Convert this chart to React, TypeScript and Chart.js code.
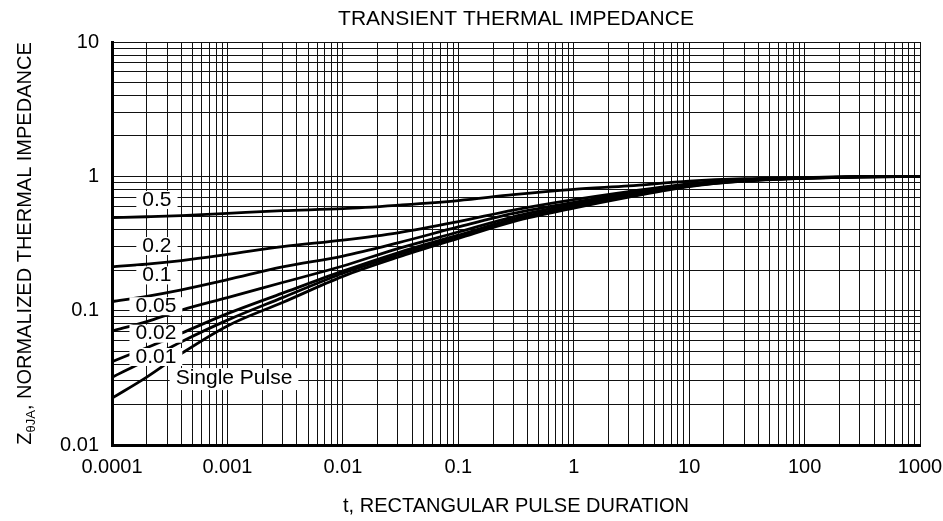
import React, { useEffect, useRef } from 'react';
import { Chart, registerables } from 'chart.js';

Chart.register(...registerables);

const FONT = "'Liberation Sans', Arial, Helvetica, sans-serif";

// Pulse duration t (s)
const tValues = [1e-4, 2e-4, 4e-4, 1e-3, 3e-3, 1e-2, 3e-2, 0.1, 0.3, 1, 3, 10, 30, 100, 300, 1000];

// Normalized thermal impedance per duty cycle
const zD05 = [0.492, 0.5, 0.51, 0.53, 0.555, 0.575, 0.61, 0.66, 0.73, 0.8, 0.85, 0.92, 0.96, 0.98, 0.995, 1.0];
const zD02 = [0.212, 0.222, 0.236, 0.262, 0.3, 0.335, 0.38, 0.46, 0.56, 0.67, 0.77, 0.88, 0.945, 0.977, 0.993, 1.0];
const zD01 = [0.117, 0.128, 0.143, 0.17, 0.212, 0.255, 0.32, 0.42, 0.53, 0.64, 0.75, 0.87, 0.94, 0.975, 0.992, 1.0];
const zD005 = [0.0706, 0.083, 0.101, 0.125, 0.162, 0.215, 0.29, 0.385, 0.5, 0.62, 0.74, 0.86, 0.935, 0.972, 0.99, 1.0];
const zD002 = [0.0417, 0.053, 0.068, 0.095, 0.135, 0.197, 0.27, 0.365, 0.48, 0.6, 0.72, 0.85, 0.93, 0.97, 0.99, 1.0];
const zD001 = [0.0319, 0.043, 0.0587, 0.085, 0.125, 0.19, 0.26, 0.355, 0.47, 0.59, 0.71, 0.845, 0.925, 0.967, 0.99, 1.0];
const zSingle = [0.0223, 0.032, 0.048, 0.077, 0.115, 0.18, 0.25, 0.345, 0.46, 0.58, 0.7, 0.84, 0.92, 0.965, 0.99, 1.0];

const seriesValues = [zD05, zD02, zD01, zD005, zD002, zD001, zSingle];

// Curve labels and their anchors (data coordinates)
const curveLabels = ['0.5', '0.2', '0.1', '0.05', '0.02', '0.01', 'Single Pulse'];
const labelT = [2.45e-4, 2.45e-4, 2.45e-4, 2.4e-4, 2.4e-4, 2.4e-4, 1.14e-3];
const labelZ = [0.667, 0.303, 0.183, 0.108, 0.0674, 0.0452, 0.0315];

// Axis ticks
const xMajorTicks = [1e-4, 1e-3, 1e-2, 0.1, 1, 10, 100, 1000];
const xTickLabels = ['0.0001', '0.001', '0.01', '0.1', '1', '10', '100', '1000'];
const yMajorTicks = [0.01, 0.1, 1, 10];
const yTickLabels = ['0.01', '0.1', '1', '10'];

const chartTitle = 'TRANSIENT THERMAL IMPEDANCE';
const xTitle = 't, RECTANGULAR PULSE DURATION';
const yTitleMain = 'Z';
const yTitleSub = 'θJA';
const yTitleRest = ', NORMALIZED THERMAL IMPEDANCE';

function logGrid(majors: number[]) {
  const out: number[] = [];
  for (let i = 0; i < majors.length - 1; i++) {
    for (let k = 1; k <= 9; k++) out.push(Number((k * majors[i]).toPrecision(4)));
  }
  out.push(majors[majors.length - 1]);
  return out;
}

function lookupLabel(v: number, majors: number[], labels: string[]) {
  const i = majors.findIndex((m) => Math.abs(Math.log10(m) - Math.log10(v)) < 1e-6);
  return i >= 0 ? labels[i] : '';
}

const textPlugin = {
  id: 'customTexts',
  afterDatasetsDraw(chart: any) {
    const ctx = chart.ctx as CanvasRenderingContext2D;
    const xs = chart.scales.x;
    const ys = chart.scales.y;
    ctx.save();
    ctx.font = `21px ${FONT}`;
    ctx.textAlign = 'center';
    ctx.textBaseline = 'middle';
    curveLabels.forEach((lab, i) => {
      const px = xs.getPixelForValue(labelT[i]);
      const py = ys.getPixelForValue(labelZ[i]);
      const w = ctx.measureText(lab).width + 12;
      const h = lab.length > 5 ? 22 : 18;
      ctx.fillStyle = '#ffffff';
      ctx.fillRect(px - w / 2, py - h / 2 + (lab.length > 5 ? 1 : 0), w, h);
      ctx.fillStyle = '#000000';
      ctx.fillText(lab, px, py);
    });
    ctx.restore();
  },
  afterDraw(chart: any) {
    const ctx = chart.ctx as CanvasRenderingContext2D;
    const area = chart.chartArea;
    const cx = (area.left + area.right) / 2;
    ctx.save();
    ctx.fillStyle = '#000000';
    ctx.textAlign = 'center';
    ctx.textBaseline = 'middle';
    ctx.font = `21px ${FONT}`;
    ctx.fillText(chartTitle, cx, 19.5);
    ctx.font = `20px ${FONT}`;
    ctx.fillText(xTitle, cx, 506.5);

    // Rotated y-axis title with subscript
    const cy = (area.top + area.bottom) / 2;
    ctx.translate(24, cy);
    ctx.rotate(-Math.PI / 2);
    ctx.textAlign = 'left';
    ctx.textBaseline = 'alphabetic';
    const mainFont = `20px ${FONT}`;
    const subFont = `13px ${FONT}`;
    ctx.font = mainFont;
    const wZ = ctx.measureText(yTitleMain).width;
    const wRest = ctx.measureText(yTitleRest).width;
    ctx.font = subFont;
    const wSub = ctx.measureText(yTitleSub).width;
    const total = wZ + wSub + wRest;
    let x0 = -total / 2;
    const base = 7;
    ctx.font = mainFont;
    ctx.fillText(yTitleMain, x0, base);
    x0 += wZ;
    ctx.font = subFont;
    ctx.fillText(yTitleSub, x0, base + 4);
    x0 += wSub;
    ctx.font = mainFont;
    ctx.fillText(yTitleRest, x0, base);
    ctx.restore();
  },
};

export default function App() {
  const ref = useRef<HTMLCanvasElement>(null);

  useEffect(() => {
    if (!ref.current) return;
    const xGrid = logGrid(xMajorTicks);
    const yGrid = logGrid(yMajorTicks);

    const datasets = seriesValues.map((vals, i) => ({
      label: curveLabels[i],
      data: tValues.map((t, j) => ({ x: t, y: vals[j] })),
      borderColor: '#000000',
      backgroundColor: '#000000',
      borderWidth: 2.8,
      pointRadius: 0,
      fill: false,
      cubicInterpolationMode: 'monotone' as const,
    }));

    const chart = new Chart(ref.current, {
      type: 'line',
      data: { datasets },
      options: {
        responsive: false,
        animation: false,
        layout: { padding: { top: 42, right: 23, left: 0, bottom: 0 } },
        plugins: {
          legend: { display: false },
          tooltip: { enabled: false },
          title: { display: false },
        },
        scales: {
          x: {
            type: 'logarithmic',
            position: 'bottom',
            min: 1e-4,
            max: 1000,
            afterBuildTicks: (s: any) => {
              s.ticks = xGrid.map((v) => ({ value: v, major: false }));
            },
            afterFit: (s: any) => {
              s.height = 76;
              s.paddingLeft = 0;
              s.paddingRight = 0;
            },
            grid: { color: '#111111', lineWidth: 1, drawTicks: false },
            border: { display: true, color: '#000000', width: 3 },
            ticks: {
              autoSkip: false,
              maxRotation: 0,
              minRotation: 0,
              padding: 10,
              color: '#000000',
              font: { family: FONT, size: 20 },
              callback: (v: any) => lookupLabel(Number(v), xMajorTicks, xTickLabels),
            },
          },
          y: {
            type: 'logarithmic',
            position: 'left',
            min: 0.01,
            max: 10,
            afterBuildTicks: (s: any) => {
              s.ticks = yGrid.map((v) => ({ value: v, major: false }));
            },
            afterFit: (s: any) => {
              s.width = 112;
              s.paddingTop = 0;
              s.paddingBottom = 0;
            },
            grid: { color: '#111111', lineWidth: 1, drawTicks: false },
            border: { display: true, color: '#000000', width: 3 },
            ticks: {
              autoSkip: false,
              padding: 13,
              color: '#000000',
              font: { family: FONT, size: 20 },
              callback: (v: any) => lookupLabel(Number(v), yMajorTicks, yTickLabels),
            },
          },
        },
      },
      plugins: [textPlugin],
    });
    return () => chart.destroy();
  }, []);

  return (
    <div style={{ position: 'fixed', left: 0, top: 0, width: 943, height: 521, background: '#ffffff' }}>
      <canvas ref={ref} width={943} height={521} style={{ display: 'block', width: 943, height: 521 }} />
    </div>
  );
}
